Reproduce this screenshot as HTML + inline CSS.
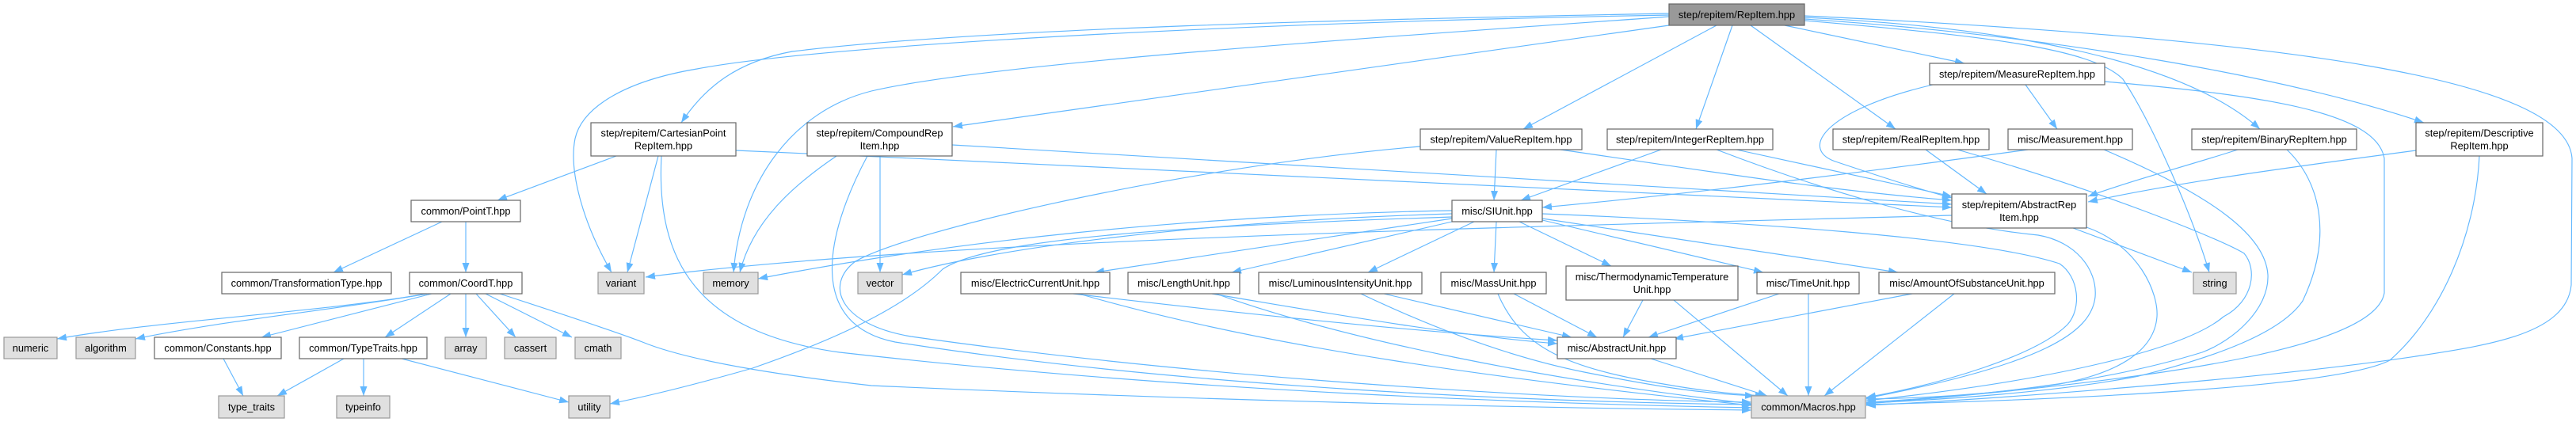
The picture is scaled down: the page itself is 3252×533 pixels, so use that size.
<!DOCTYPE html>
<html><head><meta charset="utf-8"><style>
html,body{margin:0;padding:0;background:#fff;}
svg{display:block;}
text{font-family:"Liberation Sans",Arial,sans-serif;font-size:12.8px;fill:#000;text-anchor:middle;}
.e{fill:none;stroke:#63b8ff;stroke-width:1.15;marker-end:url(#ah);}
.n{fill:#fff;stroke:#666;stroke-width:1.2;}
.g{fill:#e0e0e0;stroke:#999;stroke-width:1.2;}
.r{fill:#999;stroke:#666;stroke-width:1.2;}
</style></head><body>
<svg width="3252" height="533" viewBox="0 0 3252 533" xmlns="http://www.w3.org/2000/svg">
<defs><marker id="ah" markerUnits="userSpaceOnUse" markerWidth="13" markerHeight="10" refX="12" refY="4.5" orient="auto"><path d="M0,0 L12,4.5 L0,9 z" fill="#63b8ff"/></marker></defs>
<g>
<!-- RepItem edges -->
<path class="e" d="M2107,17 C1700,25 1250,35 1000,65 C930,78 890,110 860,155"/>
<path class="e" d="M2107,19 C1600,28 1050,55 880,87 C790,102 735,135 726,175 C718,215 735,280 772,344"/>
<path class="e" d="M2107,21 C1700,50 1250,80 1100,115 C1000,140 935,230 926,344"/>
<path class="e" d="M2107,32 L1203,160"/>
<path class="e" d="M2167,32 L1923,163"/>
<path class="e" d="M2187,32 L2141,163"/>
<path class="e" d="M2210,32 L2393,163"/>
<path class="e" d="M2253,32 L2480,80"/>
<path class="e" d="M2278,22 C2550,35 2760,80 2853,163"/>
<path class="e" d="M2278,24 C2600,45 2900,100 3060,155"/>
<path class="e" d="M2278,26 C2500,45 2640,60 2680,100 C2720,160 2770,280 2789,344"/>
<path class="e" d="M2278,20 C2900,50 3240,100 3247,200 L3246,360 C3240,420 3150,435 3050,450 C2850,480 2500,505 2356,512"/>
<!-- Cartesian -->
<path class="e" d="M778,197 L628,253"/>
<path class="e" d="M831,197 L792,344"/>
<path class="e" d="M835,197 C828,330 880,420 1060,445 C1500,495 1950,510 2211,515"/>
<path class="e" d="M929,190 C1500,215 2100,245 2464,262"/>
<!-- Compound -->
<path class="e" d="M1056,197 C1000,235 950,280 934,344"/>
<path class="e" d="M1111,197 L1111,344"/>
<path class="e" d="M1095,197 C1040,300 1020,410 1130,432 C1500,490 1950,508 2211,511"/>
<path class="e" d="M1202,183 C1700,210 2100,240 2464,258"/>
<!-- ValueRepItem -->
<path class="e" d="M1889,189 L1886,253"/>
<path class="e" d="M1970,189 C2150,215 2300,240 2464,253"/>
<path class="e" d="M1793,185 C1500,210 1150,290 1080,330 C1040,360 1060,410 1150,425 C1500,475 1950,505 2211,508"/>
<!-- IntegerRepItem -->
<path class="e" d="M2097,189 L1920,253"/>
<path class="e" d="M2192,189 L2464,248"/>
<path class="e" d="M2167,189 C2300,240 2450,285 2573,297 C2620,305 2648,340 2645,375 C2640,420 2580,460 2356,503"/>
<!-- RealRepItem -->
<path class="e" d="M2431,189 L2508,245"/>
<path class="e" d="M2471,189 C2640,237 2800,300 2833,320 C2850,340 2845,380 2807,400 C2760,440 2600,480 2356,506"/>
<!-- Measurement -->
<path class="e" d="M2560,189 C2300,225 2100,248 1947,262"/>
<path class="e" d="M2656,189 C2800,250 2860,300 2863,347 C2865,390 2820,430 2780,445 C2650,485 2500,500 2356,508"/>
<!-- MeasureRepItem -->
<path class="e" d="M2440,107 C2300,140 2270,190 2320,205 C2380,225 2420,238 2464,250"/>
<path class="e" d="M2557,107 L2597,163"/>
<path class="e" d="M2657,103 C2850,120 3000,140 3010,200 L3010,370 C3000,430 2800,475 2356,510"/>
<!-- Binary -->
<path class="e" d="M2825,189 C2760,210 2700,225 2636,248"/>
<path class="e" d="M2887,189 C2930,230 2945,300 2907,380 C2880,420 2800,450 2700,475 C2600,495 2450,505 2356,509"/>
<!-- Descriptive -->
<path class="e" d="M3050,190 C2900,210 2750,230 2636,255"/>
<path class="e" d="M3130,197 C3125,300 3080,400 3017,455 C2950,490 2600,505 2356,511"/>
<!-- AbstractRepItem -->
<path class="e" d="M2617,288 L2767,344"/>
<path class="e" d="M2634,287 C2700,310 2725,370 2723,400 C2720,440 2680,470 2600,485 C2500,500 2420,503 2356,504"/>
<path class="e" d="M2464,272 C2000,285 1200,300 815,350"/>
<!-- SIUnit -->
<path class="e" d="M1833,266 C1500,272 1200,305 957,352"/>
<path class="e" d="M1833,270 C1500,280 1250,315 1139,347"/>
<path class="e" d="M1833,274 C1500,285 1250,300 1190,340 C1150,380 1080,420 950,465 C880,485 820,500 770,510"/>
<path class="e" d="M1833,276 L1382,344"/>
<path class="e" d="M1833,280 L1555,344"/>
<path class="e" d="M1861,280 L1727,344"/>
<path class="e" d="M1889,280 L1886,344"/>
<path class="e" d="M1918,280 L2034,336"/>
<path class="e" d="M1947,278 L2226,344"/>
<path class="e" d="M1947,276 L2396,344"/>
<path class="e" d="M1947,270 C2200,280 2500,300 2600,333 C2625,350 2628,390 2610,410 C2570,450 2450,485 2356,502"/>
<!-- lower unit edges -->
<path class="e" d="M1355,371 C1600,400 1800,420 1966,430"/>
<path class="e" d="M1362,371 C1600,440 1900,480 2211,512"/>
<path class="e" d="M1530,371 C1700,400 1850,425 1966,434"/>
<path class="e" d="M1535,371 C1700,430 1950,480 2211,510"/>
<path class="e" d="M1747,371 L1984,426"/>
<path class="e" d="M1718,371 C1800,410 1900,450 2000,470 C2100,490 2150,497 2215,500"/>
<path class="e" d="M1911,371 L2016,426"/>
<path class="e" d="M1891,371 C1920,440 1980,465 2100,485 C2150,494 2190,498 2228,500"/>
<path class="e" d="M2074,379 L2049,426"/>
<path class="e" d="M2113,379 L2257,500"/>
<path class="e" d="M2246,371 L2081,426"/>
<path class="e" d="M2283,371 L2283,500"/>
<path class="e" d="M2414,371 L2113,428"/>
<path class="e" d="M2467,371 L2303,500"/>
<path class="e" d="M2084,453 L2231,500"/>
<!-- CoordT -->
<path class="e" d="M539,371 C400,395 200,405 72,428"/>
<path class="e" d="M539,371 C420,392 280,405 171,428"/>
<path class="e" d="M545,371 L330,426"/>
<path class="e" d="M569,371 L486,426"/>
<path class="e" d="M588,371 L588,426"/>
<path class="e" d="M601,371 L651,426"/>
<path class="e" d="M613,371 L722,426"/>
<path class="e" d="M631,371 C720,400 780,420 811,432 C860,452 950,470 1100,487 C1500,505 1900,515 2211,518"/>
<!-- PointT -->
<path class="e" d="M558,280 L421,344"/>
<path class="e" d="M588,280 L588,344"/>
<!-- TypeTraits / Constants -->
<path class="e" d="M434,453 L350,500"/>
<path class="e" d="M459,453 L459,500"/>
<path class="e" d="M507,453 C560,467 650,490 718,508"/>
<path class="e" d="M282,453 L307,500"/>
</g>
<g>
<rect class="r" x="2107" y="5" width="171" height="27"/><text x="2192.5" y="23">step/repitem/RepItem.hpp</text>
<rect class="n" x="2436" y="80" width="221" height="27"/><text x="2546.5" y="98">step/repitem/MeasureRepItem.hpp</text>
<rect class="n" x="746" y="155" width="183" height="42"/><text x="837.5" y="172.5">step/repitem/CartesianPoint</text><text x="837.5" y="188.5">RepItem.hpp</text>
<rect class="n" x="1019" y="155" width="183" height="42"/><text x="1110.5" y="172.5">step/repitem/CompoundRep</text><text x="1110.5" y="188.5">Item.hpp</text>
<rect class="n" x="1793" y="163" width="204" height="26"/><text x="1895" y="180.5">step/repitem/ValueRepItem.hpp</text>
<rect class="n" x="2029" y="163" width="209" height="26"/><text x="2133.5" y="180.5">step/repitem/IntegerRepItem.hpp</text>
<rect class="n" x="2314" y="163" width="197" height="26"/><text x="2412.5" y="180.5">step/repitem/RealRepItem.hpp</text>
<rect class="n" x="2535" y="163" width="157" height="26"/><text x="2613.5" y="180.5">misc/Measurement.hpp</text>
<rect class="n" x="2767" y="163" width="208" height="26"/><text x="2871" y="180.5">step/repitem/BinaryRepItem.hpp</text>
<rect class="n" x="3050" y="155" width="160" height="42"/><text x="3130" y="172.5">step/repitem/Descriptive</text><text x="3130" y="188.5">RepItem.hpp</text>
<rect class="n" x="519" y="253" width="138" height="27"/><text x="588" y="271">common/PointT.hpp</text>
<rect class="n" x="1833" y="253" width="114" height="27"/><text x="1890" y="271">misc/SIUnit.hpp</text>
<rect class="n" x="2464" y="245" width="170" height="43"/><text x="2549" y="263">step/repitem/AbstractRep</text><text x="2549" y="279">Item.hpp</text>
<rect class="n" x="280" y="344" width="214" height="27"/><text x="387" y="362">common/TransformationType.hpp</text>
<rect class="n" x="517" y="344" width="142" height="27"/><text x="588" y="362">common/CoordT.hpp</text>
<rect class="g" x="755" y="344" width="58" height="27"/><text x="784" y="362">variant</text>
<rect class="g" x="888" y="344" width="69" height="27"/><text x="922.5" y="362">memory</text>
<rect class="g" x="1083" y="344" width="56" height="27"/><text x="1111" y="362">vector</text>
<rect class="n" x="1213" y="344" width="188" height="27"/><text x="1307" y="362">misc/ElectricCurrentUnit.hpp</text>
<rect class="n" x="1424" y="344" width="141" height="27"/><text x="1494.5" y="362">misc/LengthUnit.hpp</text>
<rect class="n" x="1589" y="344" width="206" height="27"/><text x="1692" y="362">misc/LuminousIntensityUnit.hpp</text>
<rect class="n" x="1819" y="344" width="133" height="27"/><text x="1885.5" y="362">misc/MassUnit.hpp</text>
<rect class="n" x="1977" y="336" width="217" height="43"/><text x="2085.5" y="354">misc/ThermodynamicTemperature</text><text x="2085.5" y="370">Unit.hpp</text>
<rect class="n" x="2218" y="344" width="129" height="27"/><text x="2282.5" y="362">misc/TimeUnit.hpp</text>
<rect class="n" x="2372" y="344" width="222" height="27"/><text x="2483" y="362">misc/AmountOfSubstanceUnit.hpp</text>
<rect class="g" x="2769" y="344" width="54" height="27"/><text x="2796" y="362">string</text>
<rect class="g" x="5" y="426" width="67" height="27"/><text x="38.5" y="444">numeric</text>
<rect class="g" x="96" y="426" width="75" height="27"/><text x="133.5" y="444">algorithm</text>
<rect class="n" x="195" y="426" width="160" height="27"/><text x="275" y="444">common/Constants.hpp</text>
<rect class="n" x="378" y="426" width="161" height="27"/><text x="458.5" y="444">common/TypeTraits.hpp</text>
<rect class="g" x="562" y="426" width="52" height="27"/><text x="588" y="444">array</text>
<rect class="g" x="637" y="426" width="65" height="27"/><text x="669.5" y="444">cassert</text>
<rect class="g" x="726" y="426" width="58" height="27"/><text x="755" y="444">cmath</text>
<rect class="n" x="1966" y="426" width="150" height="27"/><text x="2041" y="444">misc/AbstractUnit.hpp</text>
<rect class="g" x="276" y="500" width="83" height="28"/><text x="317.5" y="518.5">type_traits</text>
<rect class="g" x="425" y="500" width="67" height="28"/><text x="458.5" y="518.5">typeinfo</text>
<rect class="g" x="718" y="500" width="52" height="28"/><text x="744" y="518.5">utility</text>
<rect class="g" x="2211" y="500" width="144" height="28"/><text x="2283" y="518.5">common/Macros.hpp</text>
</g>
</svg>
</body></html>
